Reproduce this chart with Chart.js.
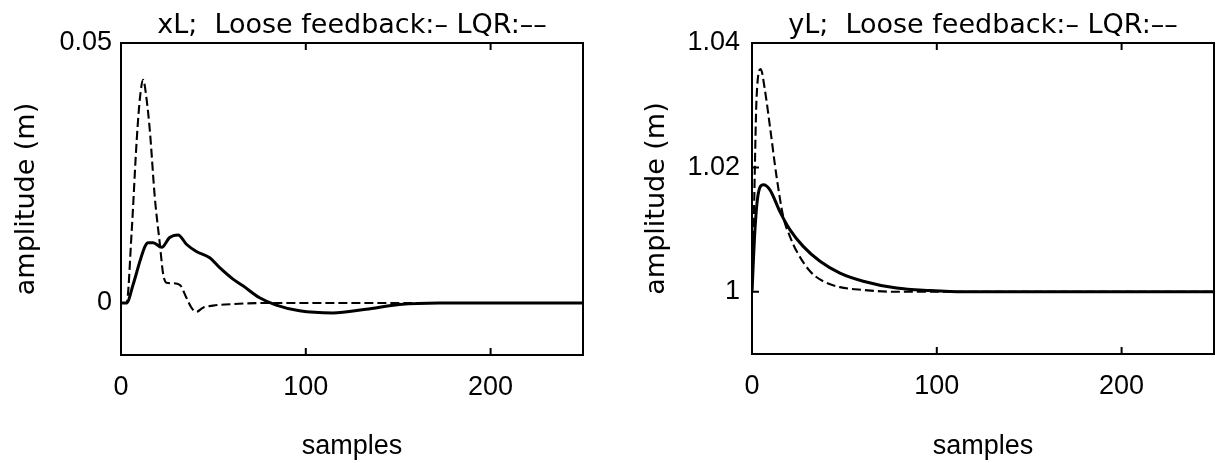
<!DOCTYPE html>
<html><head><meta charset="utf-8">
<script src="https://cdn.jsdelivr.net/npm/chart.js@4.4.1/dist/chart.umd.min.js"></script>
<style>
html,body{margin:0;padding:0;background:#fff;overflow:hidden;}
#wrap{position:relative;width:1218px;height:463px;background:#fff;}
canvas{position:absolute;top:0;}
</style></head><body>
<div id="wrap">
<canvas id="c1" width="609" height="463" style="left:0;width:609px;height:463px"></canvas>
<canvas id="c2" width="609" height="463" style="left:609px;width:609px;height:463px"></canvas>
</div>
<script>
// ---- data ----
const xTickValues = [0, 100, 200];
const xlTickValues = [0, 0.05];
const ylTickValues = [1, 1.02, 1.04];

const xlTitle = 'xL;  Loose feedback:\u2013 LQR:\u2013\u2013';
const ylTitle = 'yL;  Loose feedback:\u2013 LQR:\u2013\u2013';

// xL, Loose feedback (solid)
const xlLooseX = [0, 3, 6.6, 10.3, 13, 14.7, 17.4, 22, 26.3, 30.9, 35.4, 40.8, 48, 53.4, 60.6, 66, 75, 84, 96.6, 114.6, 132.6, 150.6, 172, 250];
const xlLooseY = [0, 0, 0.0036, 0.0081, 0.0109, 0.0116, 0.0116, 0.0107, 0.0126, 0.0131, 0.0113, 0.0099, 0.0087, 0.0068, 0.0046, 0.0033, 0.001, -0.0004, -0.0015, -0.0019, -0.0012, -0.0003, 0, 0];
// xL, LQR (dashed)
const xlLqrX = [0, 3, 5.8, 8.5, 10.3, 12, 13.9, 15.6, 18.3, 21, 22.8, 24.6, 28, 31.8, 35.4, 38.1, 40.8, 44.4, 49.8, 60.6, 78.6, 250];
const xlLqrY = [0, 0, 0.0139, 0.0313, 0.0396, 0.0429, 0.039, 0.0332, 0.0203, 0.0114, 0.0056, 0.0039, 0.0038, 0.0035, 0.001, -0.0009, -0.0017, -0.0009, -0.0005, -0.0002, 0, 0];

// yL, Loose feedback (solid)
const ylLooseX = [0, 1.6, 3.4, 6.1, 9.7, 15.1, 20.5, 27.7, 36.8, 47.6, 60.2, 78.2, 96.2, 115, 250];
const ylLooseY = [1, 1.01, 1.0158, 1.0172, 1.0164, 1.0129, 1.01, 1.0073, 1.0049, 1.003, 1.0017, 1.0006, 1.0002, 1, 1];
// yL, LQR (dashed)
const ylLqrX = [0, 1, 2.5, 4.7, 7, 9.7, 13.3, 16.9, 20.5, 24.2, 31.4, 38.5, 47.6, 60, 78, 250];
const ylLqrY = [1, 1.012, 1.0314, 1.0358, 1.0324, 1.0266, 1.0185, 1.0121, 1.0089, 1.0065, 1.0033, 1.0017, 1.00075, 1.0003, 1, 1];

// ---- helpers ----
const pts = (xs, ys) => xs.map((x, i) => ({x, y: ys[i]}));

const framePlugin = {
  id: 'frame',
  afterDatasetsDraw(chart, args, o) {
    const {ctx, chartArea: a, scales: {x, y}} = chart;
    ctx.save();
    ctx.strokeStyle = '#000';
    ctx.lineWidth = 2;
    ctx.strokeRect(a.left, a.top, a.right - a.left, a.bottom - a.top);
    ctx.beginPath();
    for (const v of o.xMarks) {
      const px = x.getPixelForValue(v);
      ctx.moveTo(px, a.bottom); ctx.lineTo(px, a.bottom - 7);
      ctx.moveTo(px, a.top); ctx.lineTo(px, a.top + 7);
    }
    for (const v of o.yMarks) {
      const py = y.getPixelForValue(v);
      ctx.moveTo(a.left, py); ctx.lineTo(a.left + 7, py);
    }
    ctx.stroke();
    ctx.fillStyle = '#000';
    ctx.font = '27px "DejaVu Sans"';
    ctx.textAlign = 'center';
    ctx.textBaseline = 'alphabetic';
    ctx.fillText(o.title, (a.left + a.right) / 2, 33);
    ctx.restore();
  }
};

function makeChart(id, cfg) {
  return new Chart(document.getElementById(id), {
    type: 'line',
    data: {
      datasets: [
        {label: 'Loose feedback', data: pts(cfg.looseX, cfg.looseY), borderColor: '#000', borderWidth: 3,
         pointRadius: 0, fill: false, cubicInterpolationMode: 'monotone'},
        {label: 'LQR', data: pts(cfg.lqrX, cfg.lqrY), borderColor: '#000', borderWidth: 2.1, borderDash: [9, 4],
         pointRadius: 0, fill: false, cubicInterpolationMode: 'monotone'}
      ]
    },
    options: {
      responsive: false,
      animation: false,
      devicePixelRatio: 1,
      layout: {padding: {left: 0, right: cfg.padRight, top: 43, bottom: 0}},
      plugins: {
        legend: {display: false},
        tooltip: {enabled: false},
        frame: {title: cfg.title, xMarks: [100, 200], yMarks: cfg.yMarks}
      },
      scales: {
        x: {
          type: 'linear', min: 0, max: 250,
          afterBuildTicks: s => { s.ticks = xTickValues.map(v => ({value: v})); },
          afterFit: s => { s.height = cfg.xHeight; },
          grid: {display: false, drawTicks: false},
          border: {display: false},
          ticks: {color: '#000', font: {family: 'Liberation Sans', size: 27}, padding: 16, maxRotation: 0,
                  callback: v => String(v)},
          title: {display: true, text: 'samples', color: '#000', font: {family: 'Liberation Sans', size: 27},
                  padding: {top: 0, bottom: 0}}
        },
        y: {
          type: 'linear', min: cfg.yMin, max: cfg.yMax,
          afterBuildTicks: s => { s.ticks = cfg.yTicks.map(v => ({value: v})); },
          afterFit: s => { s.width = cfg.yWidth; },
          grid: {display: false, drawTicks: false},
          border: {display: false},
          ticks: {color: '#000', font: {family: 'Liberation Sans', size: 27}, padding: cfg.yTickPad,
                  callback: v => String(v)},
          title: {display: true, text: 'amplitude (m)', color: '#000', font: {family: 'DejaVu Sans', size: 27},
                  padding: {top: cfg.yTitlePad, bottom: 0}}
        }
      }
    },
    plugins: [framePlugin]
  });
}

makeChart('c1', {
  title: xlTitle, looseX: xlLooseX, looseY: xlLooseY, lqrX: xlLqrX, lqrY: xlLqrY,
  yMin: -0.01, yMax: 0.05, yTicks: xlTickValues, yMarks: [0],
  yWidth: 121, padRight: 26, xHeight: 108, yTickPad: 9, yTitlePad: 11
});
makeChart('c2', {
  title: ylTitle, looseX: ylLooseX, looseY: ylLooseY, lqrX: ylLqrX, lqrY: ylLqrY,
  yMin: 0.99, yMax: 1.04, yTicks: ylTickValues, yMarks: [1, 1.02],
  yWidth: 143, padRight: 4, xHeight: 109, yTickPad: 12, yTitlePad: 32
});
</script>
</body></html>
